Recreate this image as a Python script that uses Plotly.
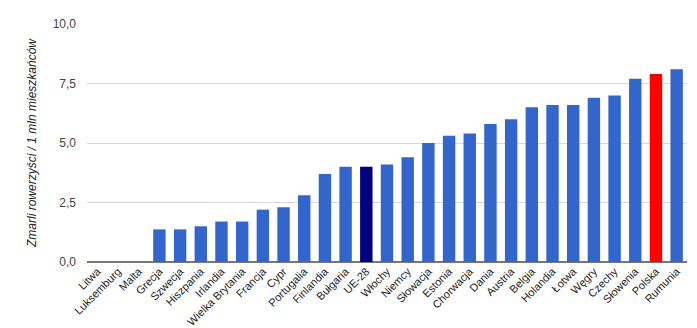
import plotly.graph_objects as go

categories = ["Litwa", "Luksemburg", "Malta", "Grecja", "Szwecja", "Hiszpania", "Irlandia",
              "Wielka Brytania", "Francja", "Cypr", "Portugalia", "Finlandia", "Bułgaria",
              "UE-28", "Włochy", "Niemcy", "Słowacja", "Estonia", "Chorwacja", "Dania",
              "Austria", "Belgia", "Holandia", "Łotwa", "Węgry", "Czechy", "Słowenia",
              "Polska", "Rumunia"]
values = [0.0, 0.0, 0.0, 1.37, 1.37, 1.5, 1.7, 1.7, 2.2, 2.3, 2.8, 3.7, 4.0,
          4.0, 4.1, 4.4, 5.0, 5.3, 5.4, 5.8, 6.0, 6.5, 6.6, 6.6, 6.9, 7.0, 7.7,
          7.9, 8.1]
y_ticks = [0, 2.5, 5, 7.5, 10]
y_title = "Zmarli rowerzyści / 1 mln mieszkańców"

colors = []
for c in categories:
    if c == "UE-28":
        colors.append("#000080")
    elif c == "Polska":
        colors.append("#ff0000")
    else:
        colors.append("#3366cc")

fig = go.Figure(go.Bar(x=categories, y=values, marker=dict(color=colors, line=dict(width=0)),
                       hoverinfo="x+y"))

fig.update_layout(
    width=697, height=328,
    margin=dict(l=87, r=10, t=24, b=66),
    paper_bgcolor="white", plot_bgcolor="white",
    separators=", ",
    bargap=0.4,
    showlegend=False,
    font=dict(family="Liberation Sans, Arial, sans-serif", color="#222222"),
)
fig.update_xaxes(
    tickangle=-45, tickfont=dict(size=11, color="#222222"),
    showgrid=False, showline=False, ticks="", automargin=False,
)
fig.update_yaxes(
    range=[0, 10], tickvals=y_ticks, tickformat=".1f",
    tickfont=dict(size=12, color="#444444"),
    showgrid=True, gridcolor="#d9d9d9", gridwidth=1,
    zeroline=True, zerolinecolor="#777777", zerolinewidth=1.5,
    showline=False, ticks="", ticklabelstandoff=10, automargin=False,
)
fig.add_annotation(
    text="<i>" + y_title + "</i>", textangle=-90, xref="paper", yref="paper",
    x=(32 - 87) / 600, y=0.5, xanchor="center", yanchor="middle",
    showarrow=False, font=dict(size=12, color="#222222", family="Liberation Sans, Arial, sans-serif"),
)

fig.write_html("out.html")
